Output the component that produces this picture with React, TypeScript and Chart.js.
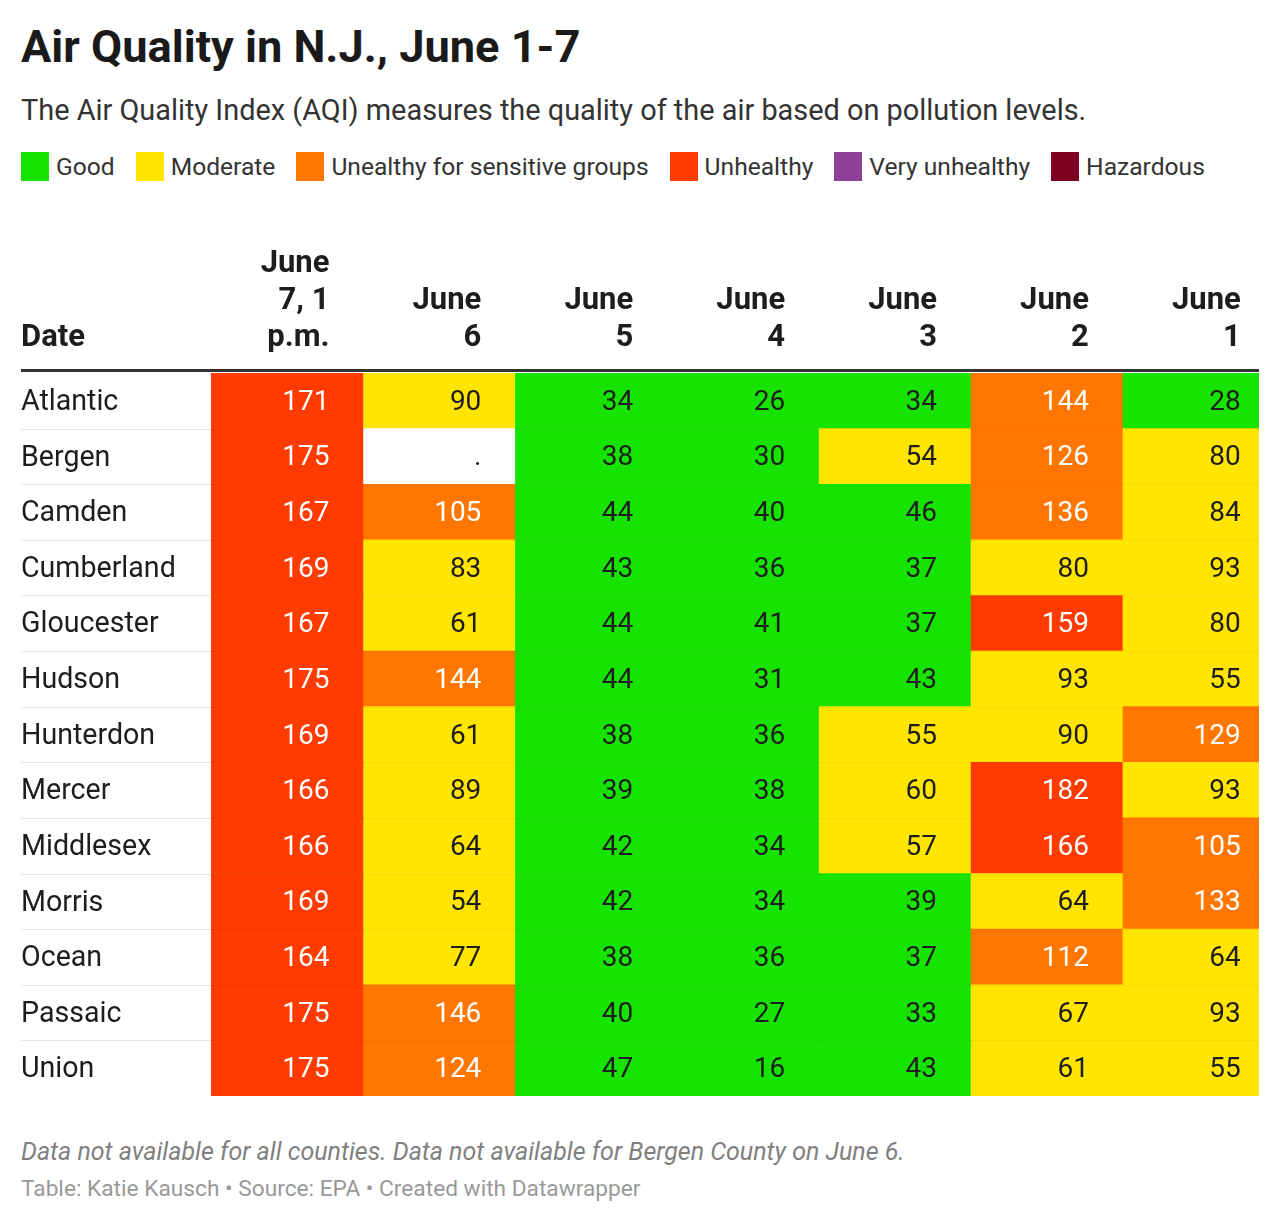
import React, { useEffect, useRef } from "react";
import { Chart, registerables } from "chart.js";

Chart.register(...registerables);

// ---------- data ----------
const counties = [
  "Atlantic", "Bergen", "Camden", "Cumberland", "Gloucester", "Hudson", "Hunterdon",
  "Mercer", "Middlesex", "Morris", "Ocean", "Passaic", "Union",
];
const rowHeaderLabel = "Date";
const columnHeaders = [
  ["June", "7, 1", "p.m."],
  ["June", "6"],
  ["June", "5"],
  ["June", "4"],
  ["June", "3"],
  ["June", "2"],
  ["June", "1"],
];
const june7 = [171, 175, 167, 169, 167, 175, 169, 166, 166, 169, 164, 175, 175];
const june6 = [90, null, 105, 83, 61, 144, 61, 89, 64, 54, 77, 146, 124];
const june5 = [34, 38, 44, 43, 44, 44, 38, 39, 42, 42, 38, 40, 47];
const june4 = [26, 30, 40, 36, 41, 31, 36, 38, 34, 34, 36, 27, 16];
const june3 = [34, 54, 46, 37, 37, 43, 55, 60, 57, 39, 37, 33, 43];
const june2 = [144, 126, 136, 80, 159, 93, 90, 182, 166, 64, 112, 67, 61];
const june1 = [28, 80, 84, 93, 80, 55, 129, 93, 105, 133, 64, 93, 55];
const columns: (number | null)[][] = [june7, june6, june5, june4, june3, june2, june1];

const categoryNames = [
  "Good", "Moderate", "Unealthy for sensitive groups", "Unhealthy", "Very unhealthy", "Hazardous",
];
const categoryLimits = [50, 100, 150, 200, 300, Infinity];
const categoryColors = ["#17e300", "#ffe500", "#ff7700", "#ff3b00", "#8f3f97", "#7e0023"];
const categoryTextColors = ["#1d1d1d", "#1d1d1d", "#ffffff", "#ffffff", "#ffffff", "#ffffff"];
const missingLabel = ".";

const noteText = "Data not available for all counties. Data not available for Bergen County on June 6.";
const bylineText = "Table: Katie Kausch • Source: EPA • Created with Datawrapper";
const titleText = "Air Quality in N.J., June 1-7";
const subtitleText = "The Air Quality Index (AQI) measures the quality of the air based on pollution levels.";

// ---------- layout constants ----------
const LAST_COL_FRACTION = 0.9;
const TEXT_INSET = 0.22;
const FONT = "Roboto";

function catIndex(v: number) {
  for (let i = 0; i < categoryLimits.length; i++) if (v <= categoryLimits[i]) return i;
  return categoryLimits.length - 1;
}

const tablePlugin = {
  id: "tableText",
  afterDatasetsDraw(chart: any) {
    const { ctx, chartArea, scales } = chart;
    const xs = scales.x;
    const ys = scales.y;
    ctx.save();
    // row separators
    for (let i = 1; i < counties.length; i++) {
      const yb = Math.round((ys.getPixelForValue(i - 1) + ys.getPixelForValue(i)) / 2) + 0.5;
      ctx.lineWidth = 1;
      ctx.strokeStyle = "#e6e6e6";
      ctx.beginPath();
      ctx.moveTo(ys.left, yb);
      ctx.lineTo(chartArea.left, yb);
      ctx.stroke();
      ctx.strokeStyle = "rgba(0,0,0,0.035)";
      ctx.beginPath();
      ctx.moveTo(chartArea.left, yb);
      ctx.lineTo(chartArea.right, yb);
      ctx.stroke();
    }
    // cell values
    ctx.font = `28px ${FONT}`;
    ctx.textAlign = "right";
    ctx.textBaseline = "middle";
    columns.forEach((vals, j) => {
      const meta = chart.getDatasetMeta(j);
      const tx = xs.getPixelForValue(j + 1 - TEXT_INSET);
      vals.forEach((v, i) => {
        const el = meta.data[i];
        ctx.fillStyle = v == null ? "#1d1d1d" : categoryTextColors[catIndex(v)];
        ctx.fillText(v == null ? missingLabel : String(v), tx, el.y + 2);
      });
    });
    // header
    ctx.font = `bold 31px ${FONT}`;
    ctx.fillStyle = "#1d1d1d";
    ctx.textBaseline = "alphabetic";
    const base = chartArea.top - 27;
    const lh = 37;
    ctx.textAlign = "left";
    ctx.fillText(rowHeaderLabel, ys.left, base);
    ctx.textAlign = "right";
    columnHeaders.forEach((lines, j) => {
      const tx = xs.getPixelForValue(j + 1 - TEXT_INSET);
      lines.forEach((l, k) => ctx.fillText(l, tx, base - (lines.length - 1 - k) * lh));
    });
    // thick rule
    ctx.fillStyle = "#333333";
    ctx.fillRect(ys.left, chartArea.top - 4, chartArea.right - ys.left, 3);
    ctx.restore();
  },
};

export default function App() {
  const ref = useRef<HTMLCanvasElement | null>(null);

  useEffect(() => {
    if (!ref.current) return;
    const chart = new Chart(ref.current, {
      type: "bar",
      data: {
        labels: counties,
        datasets: columns.map((vals, j) => ({
          label: columnHeaders[j].join(" "),
          data: vals.map(() => [j, j === columns.length - 1 ? j + LAST_COL_FRACTION : j + 1]),
          backgroundColor: vals.map((v) => (v == null ? "#ffffff" : categoryColors[catIndex(v)])),
          borderWidth: 0,
          grouped: false,
          barPercentage: 1,
          categoryPercentage: 1,
        })) as any,
      },
      options: {
        indexAxis: "y",
        animation: false,
        responsive: false,
        maintainAspectRatio: false,
        layout: { padding: { left: 21, right: 21, top: 153, bottom: 30 } },
        plugins: {
          legend: { display: false },
          tooltip: { enabled: false },
        },
        scales: {
          x: {
            type: "linear",
            display: false,
            min: 0,
            max: columns.length - 1 + LAST_COL_FRACTION,
          },
          y: {
            type: "category",
            position: "left",
            grid: { display: false },
            border: { display: false },
            ticks: {
              crossAlign: "far",
              padding: 0,
              labelOffset: 2,
              color: "#1d1d1d",
              font: { family: FONT, size: 28.6 },
            },
            afterFit: (s: any) => {
              s.width = 190;
            },
          },
        },
      } as any,
      plugins: [tablePlugin],
    });
    return () => chart.destroy();
  }, []);

  const abs = (o: React.CSSProperties): React.CSSProperties => ({ position: "absolute", ...o });

  return (
    <div style={{ position: "absolute", left: 0, top: 0, width: 1280, height: 1226, background: "#fff", fontFamily: FONT, overflow: "hidden" }}>
      <div style={abs({ left: 21, top: 24, fontSize: 45.2, lineHeight: "45px", fontWeight: 700, color: "#1a1a1a", whiteSpace: "nowrap" })}>
        {titleText}
      </div>
      <div style={abs({ left: 21, top: 96, fontSize: 28.9, lineHeight: "29px", color: "#333", whiteSpace: "nowrap" })}>
        {subtitleText}
      </div>
      <div style={abs({ left: 21, top: 152, display: "flex", alignItems: "center", height: 29, whiteSpace: "nowrap" })}>
        {categoryNames.map((n, i) => (
          <div key={n} style={{ display: "flex", alignItems: "center", marginRight: 21 }}>
            <span style={{ display: "inline-block", width: 28, height: 29, background: categoryColors[i], marginRight: 7 }} />
            <span style={{ fontSize: 24.6, lineHeight: "28px", color: "#333" }}>{n}</span>
          </div>
        ))}
      </div>
      <canvas ref={ref} width={1280} height={906} style={abs({ left: 0, top: 220, width: 1280, height: 906 })} />
      <div style={abs({ left: 21, top: 1139, fontSize: 25, lineHeight: "25px", fontStyle: "italic", color: "#808080", whiteSpace: "nowrap" })}>
        {noteText}
      </div>
      <div style={abs({ left: 21, top: 1178, fontSize: 22.7, lineHeight: "22.7px", color: "#999", whiteSpace: "nowrap" })}>
        {bylineText}
      </div>
    </div>
  );
}
